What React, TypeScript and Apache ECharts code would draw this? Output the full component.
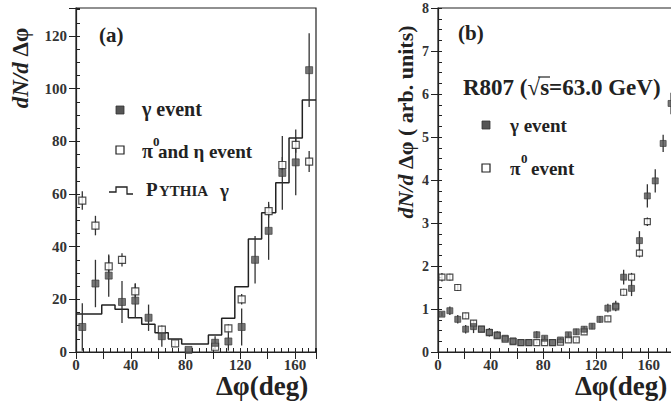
import React, { useEffect, useRef } from "react";
import * as echarts from "echarts";

// ---------- Panel (a) ----------
const phiA = [4.6, 14.2, 23.9, 33.6, 43.3, 53, 62.7, 72.4, 82.2, 91.9, 101.6, 111.3, 121, 130.8, 140.7, 150.7, 160.5, 170.3];
const gammaA = [9.5, 26, 29, 19, 19.5, 13, 6, null, 0.8, null, 3.5, 4, 9.5, 35, 46, 68, 72, 107];
const gammaErrA = [9, 9, 8, 8, 6.5, 5, 4, 0, 0, 0, 2.5, 3.5, 7, 9, 11, 14, 12.5, 14];
const pi0A = [57.5, 48, 32.5, 35, 23, null, 8.5, 3.3, null, null, 2, 9, 20, null, 53.5, 71, 78.6, 72.3];
const pi0ErrA = [3.5, 3.7, 4, 2.5, 3, 0, 1.5, 1, 0, 0, 1, 1.5, 2, 0, 2.5, 3, 3, 4];
const pythiaEdges = [0, 9.4, 18.8, 28.5, 38.2, 48, 57.7, 67.4, 77.2, 87, 96.7, 106.4, 116, 125.9, 135.6, 145.9, 155.6, 165.3, 175.3];
const pythiaA = [14.4, 14.4, 17.8, 16.2, 13, 10.5, 7.3, 4.9, 3.0, 3.0, 6.5, 12.8, 24.8, 42.9, 52.9, 64.3, 81.2, 95.7];

// ---------- Panel (b) ----------
const phiB = [3, 9, 15, 21, 27, 33, 39, 45, 51, 57, 63, 69, 75, 81, 87, 93, 99, 105, 111, 117, 123, 129, 135, 141, 147, 153, 159, 165, 171, 177];
const gammaB = [0.88, 0.96, 0.76, 0.53, 0.59, 0.53, 0.46, 0.4, 0.32, 0.26, 0.22, 0.22, 0.4, 0.32, 0.22, 0.28, 0.4, 0.47, 0.53, 0.6, 0.76, 1.02, 1.07, 1.74, 1.48, 2.59, 3.63, 3.98, 4.85, 5.78];
const gammaErrB = [0.05, 0.1, 0.1, 0.1, 0.15, 0.06, 0.1, 0.08, 0.06, 0.05, 0.04, 0.04, 0.08, 0.06, 0.04, 0.05, 0.06, 0.07, 0.07, 0.07, 0.08, 0.1, 0.12, 0.17, 0.18, 0.22, 0.27, 0.27, 0.2, 0.25];
const pi0B = [1.74, 1.74, 1.5, 0.84, 0.67, 0.53, 0.45, 0.38, 0.3, 0.24, 0.22, 0.22, 0.22, 0.22, 0.22, 0.23, 0.28, 0.28, 0.47, null, null, 0.77, 1.05, 1.39, 1.74, 2.3, 3.03, null, null, null];
const pi0ErrB = [0.1, 0.08, 0.08, 0.07, 0.05, 0.04, 0.04, 0.04, 0.04, 0.03, 0.03, 0.03, 0.03, 0.03, 0.03, 0.03, 0.04, 0.04, 0.05, 0, 0, 0.06, 0.07, 0.08, 0.1, 0.1, 0.1, 0, 0, 0];

const xTicksA = [0, 40, 80, 120, 160];
const yTicksA = [0, 20, 40, 60, 80, 100, 120];
const xTicksB = [0, 40, 80, 120, 160];
const yTicksB = [0, 1, 2, 3, 4, 5, 6, 7, 8];

const SERIF = "Liberation Serif";
const INK = "#222";

function pts(xs: number[], ys: (number | null)[]) {
  const out: number[][] = [];
  xs.forEach((x, i) => {
    if (ys[i] != null) out.push([x, ys[i] as number]);
  });
  return out;
}
function errs(xs: number[], ys: (number | null)[], es: number[]) {
  const out: number[][] = [];
  xs.forEach((x, i) => {
    const v = ys[i];
    if (v != null && es[i] > 0) out.push([x, Math.max(0, v - es[i]), v + es[i]]);
  });
  return out;
}
function steps(edges: number[], lv: number[]) {
  const out: number[][] = [];
  lv.forEach((v, i) => {
    out.push([edges[i], v]);
    out.push([edges[i + 1], v]);
  });
  return out;
}
function labelIn(list: number[]) {
  return (v: number) => {
    const hit = list.find((t) => Math.abs(t - v) < 1e-3);
    return hit === undefined ? "" : String(hit);
  };
}

const errRender = (params: any, api: any) => {
  const a = api.coord([api.value(0), api.value(1)]);
  const b = api.coord([api.value(0), api.value(2)]);
  return {
    type: "line",
    shape: { x1: a[0], y1: a[1], x2: b[0], y2: b[1] },
    style: { stroke: "#333", lineWidth: 1.3 },
  };
};

function mkX(grid: number, max: number, interval: number, len: number, labels: number[] | null) {
  return {
    type: "value",
    gridIndex: grid,
    min: 0,
    max,
    interval,
    axisLine: { show: labels !== null, lineStyle: { color: INK, width: 1.2 } },
    axisTick: { show: true, inside: true, length: len, lineStyle: { color: INK, width: 1 } },
    axisLabel: labels
      ? { show: true, formatter: labelIn(labels), fontFamily: SERIF, fontWeight: "bold", fontSize: 15, color: "#333", margin: 5, showMaxLabel: true }
      : { show: false },
    splitLine: { show: false },
  };
}
function mkY(grid: number, max: number, interval: number, len: number, labels: number[] | null, fs: number) {
  return {
    type: "value",
    gridIndex: grid,
    min: 0,
    max,
    interval,
    axisLine: { show: labels !== null, lineStyle: { color: INK, width: 1.2 } },
    axisTick: { show: true, inside: true, length: len, lineStyle: { color: INK, width: 1 } },
    axisLabel: labels
      ? { show: true, formatter: labelIn(labels), fontFamily: SERIF, fontWeight: "bold", fontSize: fs, color: "#333", margin: 9 }
      : { show: false },
    splitLine: { show: false },
  };
}

const txt = (x: number, y: number, text: string, size: number, extra: any = {}) => ({
  type: "text",
  x,
  y,
  style: {
    text,
    fontFamily: SERIF,
    fontWeight: "bold",
    fontSize: size,
    fill: INK,
    align: "left",
    verticalAlign: "middle",
    ...extra,
  },
});

export default function App() {
  const ref = useRef<HTMLDivElement>(null);
  useEffect(() => {
    if (!ref.current) return;
    const chart = echarts.init(ref.current, undefined, { renderer: "svg" });
    const option: any = {
      animation: false,
      backgroundColor: "#fff",
      grid: [
        { left: 76, top: 8, width: 240, height: 344, show: true, borderColor: INK, borderWidth: 1.2, backgroundColor: "transparent" },
        { left: 438, top: 8, width: 237, height: 344, show: true, borderColor: INK, borderWidth: 1.2, backgroundColor: "transparent" },
      ],
      xAxis: [
        mkX(0, 175.3, 5, 4, xTicksA),
        mkX(0, 175.3, 20, 7, null),
        mkX(1, 180, 20 / 3, 4, xTicksB),
        mkX(1, 180, 20, 7, null),
      ],
      yAxis: [
        mkY(0, 130.6, 5, 4, yTicksA, 15),
        mkY(0, 130.6, 20, 7, null, 15),
        mkY(1, 8, 0.25, 4, yTicksB, 14),
        mkY(1, 8, 1, 7, null, 14),
      ],
      series: [
        {
          type: "line",
          xAxisIndex: 0,
          yAxisIndex: 0,
          data: steps(pythiaEdges, pythiaA),
          showSymbol: false,
          symbol: "none",
          lineStyle: { color: INK, width: 1.5 },
          z: 2,
        },
        { type: "custom", xAxisIndex: 0, yAxisIndex: 0, data: errs(phiA, gammaA, gammaErrA), renderItem: errRender, encode: { x: 0, y: [1, 2] }, z: 3 },
        { type: "custom", xAxisIndex: 0, yAxisIndex: 0, data: errs(phiA, pi0A, pi0ErrA), renderItem: errRender, encode: { x: 0, y: [1, 2] }, z: 3 },
        {
          type: "scatter", xAxisIndex: 0, yAxisIndex: 0, data: pts(phiA, pi0A), symbol: "rect", symbolSize: 7,
          itemStyle: { color: "#fff", borderColor: INK, borderWidth: 1.2 }, z: 4,
        },
        {
          type: "scatter", xAxisIndex: 0, yAxisIndex: 0, data: pts(phiA, gammaA), symbol: "rect", symbolSize: 7,
          itemStyle: { color: "#555", borderColor: "#333", borderWidth: 0.8 }, z: 5,
        },
        { type: "custom", xAxisIndex: 2, yAxisIndex: 2, data: errs(phiB, gammaB, gammaErrB), renderItem: errRender, encode: { x: 0, y: [1, 2] }, z: 3 },
        { type: "custom", xAxisIndex: 2, yAxisIndex: 2, data: errs(phiB, pi0B, pi0ErrB), renderItem: errRender, encode: { x: 0, y: [1, 2] }, z: 3 },
        {
          type: "scatter", xAxisIndex: 2, yAxisIndex: 2, data: pts(phiB, pi0B), symbol: "rect", symbolSize: 6,
          itemStyle: { color: "#fff", borderColor: INK, borderWidth: 1.2 }, z: 4,
        },
        {
          type: "scatter", xAxisIndex: 2, yAxisIndex: 2, data: pts(phiB, gammaB), symbol: "rect", symbolSize: 6,
          itemStyle: { color: "#555", borderColor: "#333", borderWidth: 0.8 }, z: 5,
        },
      ],
      graphic: [
        // panel (a)
        txt(99, 35, "(a)", 21),
        { type: "rect", shape: { x: 116, y: 106, width: 8, height: 8 }, style: { fill: "#555", stroke: "#333", lineWidth: 0.8 } },
        txt(142, 109, "γ event", 20),
        { type: "rect", shape: { x: 116, y: 146, width: 8, height: 8 }, style: { fill: "#fff", stroke: INK, lineWidth: 1.2 } },
        txt(142, 151, "π", 20),
        txt(153, 141, "0", 13),
        txt(158, 151, "and η event", 19),
        {
          type: "polyline",
          shape: { points: [[109, 192], [116, 192], [116, 187], [127, 187], [127, 194], [133, 194]] },
          style: { stroke: INK, lineWidth: 1.3, fill: "none" },
        },
        txt(146, 199, "P", 19, { verticalAlign: "bottom" }),
        txt(159, 198, "YTHIA", 15, { verticalAlign: "bottom" }),
        txt(220, 190, "γ", 19),
        // axis names (a)
        {
          type: "text", x: 20, y: 68, rotation: Math.PI / 2,
          style: {
            text: "{i|dN/d} {r|Δφ}",
            align: "center", verticalAlign: "middle", fill: INK,
            rich: {
              i: { fontFamily: SERIF, fontWeight: "bold", fontStyle: "italic", fontSize: 23, fill: INK },
              r: { fontFamily: SERIF, fontWeight: "bold", fontSize: 23, fill: INK },
            },
            fontFamily: SERIF, fontWeight: "bold", fontSize: 23,
          },
        },
        txt(262, 386, "Δφ(deg)", 27, { align: "center" }),
        // panel (b)
        txt(458, 33, "(b)", 21),
        txt(463, 87, "R807 (√s=63.0 GeV)", 23),
        { type: "line", shape: { x1: 538, y1: 77, x2: 550, y2: 77 }, style: { stroke: INK, lineWidth: 1.2 } },
        { type: "rect", shape: { x: 482, y: 121, width: 8, height: 8 }, style: { fill: "#555", stroke: "#333", lineWidth: 0.8 } },
        txt(510, 125, "γ event", 19),
        { type: "rect", shape: { x: 482, y: 164, width: 8, height: 8 }, style: { fill: "#fff", stroke: INK, lineWidth: 1.2 } },
        txt(510, 168, "π", 19),
        txt(521, 158, "0", 13),
        txt(531, 168, "event", 19),
        {
          type: "text", x: 405, y: 122, rotation: Math.PI / 2,
          style: {
            text: "{i|dN/d} {r|Δφ ( arb. units)}",
            align: "center", verticalAlign: "middle", fill: INK,
            rich: {
              i: { fontFamily: SERIF, fontWeight: "bold", fontStyle: "italic", fontSize: 22, fill: INK },
              r: { fontFamily: SERIF, fontWeight: "bold", fontSize: 22, fill: INK },
            },
            fontFamily: SERIF, fontWeight: "bold", fontSize: 22,
          },
        },
        txt(621, 386, "Δφ(deg)", 27, { align: "center" }),
      ],
    };
    chart.setOption(option);
    return () => chart.dispose();
  }, []);
  return (
    <div style={{ position: "fixed", left: 0, top: 0, width: 671, height: 403, overflow: "hidden", background: "#fff" }}>
      <div ref={ref} style={{ width: 700, height: 403 }} />
    </div>
  );
}
